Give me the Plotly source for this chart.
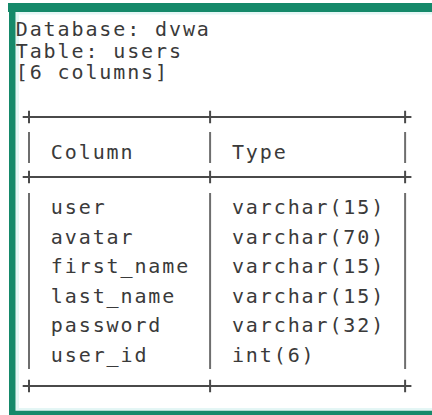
import plotly.graph_objects as go

# ---- data ----
database_name = "dvwa"
table_name = "users"
header_labels = ["Column", "Type"]
column_names = ["user", "avatar", "first_name", "last_name", "password", "user_id"]
column_types = ["varchar(15)", "varchar(70)", "varchar(15)", "varchar(15)", "varchar(32)", "int(6)"]

# ---- layout constants (pixels) ----
W, H = 432, 415
CW = 13.93          # character pitch
X0 = 29.0           # centre of character column 0
FS = 20
FONT = "DejaVu Sans Mono"
TEXT = "#3a3a3a"
RULE = "#4a4a4a"
BAR = "#6e6e6e"
GREEN = "#15896a"
TINT = "#e4f6f5"

w1 = max(len(s) for s in column_names + [header_labels[0]])
w2 = max(len(s) for s in column_types + [header_labels[1]])
plus_cols = [0, w1 + 3, w1 + w2 + 6]


def cx(c):
    return X0 + c * CW


title_lines = [f"Database: {database_name}", f"Table: {table_name}", f"[{len(column_names)} columns]"]
title_y = [31 + i * 21.5 for i in range(len(title_lines))]
sep_y = [117, 177, 386]
header_y = 154
row_y0, row_dy = 209, 29.6
row_y = [row_y0 + i * row_dy for i in range(len(column_names))]

xs, ys, ts = [], [], []


def put(text, col, y):
    for k, ch in enumerate(text):
        if ch != " ":
            xs.append(cx(col + k))
            ys.append(y)
            ts.append(ch)


for line, y in zip(title_lines, title_y):
    put(line, -0.52, y)
put(header_labels[0], plus_cols[0] + 2, header_y)
put(header_labels[1], plus_cols[1] + 2, header_y)
for name, typ, y in zip(column_names, column_types, row_y):
    put(name, plus_cols[0] + 2, y)
    put(typ, plus_cols[1] + 2, y)

fig = go.Figure()

# horizontal rules
hx, hy = [], []
for y in sep_y:
    for a, b in zip(plus_cols[:-1], plus_cols[1:]):
        hx += [cx(a) + 5, cx(b) - 5, None]
        hy += [y, y, None]
fig.add_trace(go.Scatter(x=hx, y=hy, mode="lines", line=dict(color=RULE, width=2), hoverinfo="skip"))

# vertical bars
vx, vy = [], []
for c in plus_cols:
    vx += [cx(c), cx(c), None, cx(c), cx(c), None]
    vy += [132, 163, None, 193, 369, None]
fig.add_trace(go.Scatter(x=vx, y=vy, mode="lines", line=dict(color=BAR, width=2), hoverinfo="skip"))

# plus corners
px = [cx(c) for y in sep_y for c in plus_cols]
py = [y for y in sep_y for c in plus_cols]
fig.add_trace(go.Scatter(x=px, y=py, mode="markers",
                         marker=dict(symbol="cross-thin", size=9, line=dict(color=RULE, width=2)),
                         hoverinfo="skip"))

# characters
fig.add_trace(go.Scatter(x=xs, y=ys, text=ts, mode="text", textposition="middle center",
                         textfont=dict(family=FONT, size=FS, color=TEXT), hoverinfo="skip"))

shapes = [
    dict(type="rect", x0=16, x1=W, y0=12, y1=14.5, fillcolor=TINT, line_width=0, layer="below"),
    dict(type="rect", x0=15.5, x1=19, y0=12, y1=411, fillcolor=TINT, line_width=0, layer="below"),
    dict(type="rect", x0=16, x1=W, y0=408, y1=411, fillcolor=TINT, line_width=0, layer="below"),
    dict(type="rect", x0=8, x1=W, y0=3, y1=12, fillcolor=GREEN, line_width=0),
    dict(type="rect", x0=9, x1=15.5, y0=3, y1=H, fillcolor=GREEN, line_width=0),
    dict(type="rect", x0=9, x1=W, y0=410.8, y1=H, fillcolor=GREEN, line_width=0),
]

fig.update_layout(
    width=W, height=H, margin=dict(l=0, r=0, t=0, b=0),
    paper_bgcolor="white", plot_bgcolor="white",
    showlegend=False, hovermode=False, shapes=shapes,
    xaxis=dict(range=[0, W], visible=False, fixedrange=True),
    yaxis=dict(range=[H, 0], visible=False, fixedrange=True),
)

fig.write_html(
    "out.html",
    config={"displayModeBar": False},
    post_script="document.body.style.margin='0';document.body.style.overflow='hidden';",
)
